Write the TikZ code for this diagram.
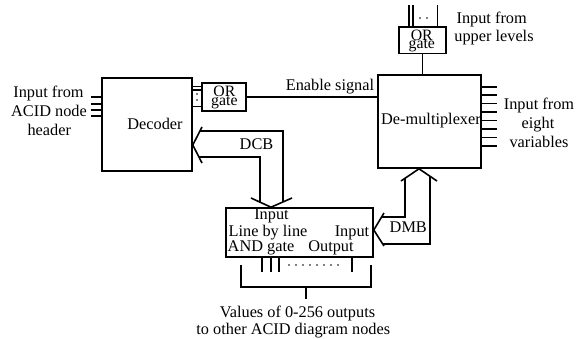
\documentclass[tikz,border=0pt]{standalone}
\usepackage{fontspec}
\setmainfont{Liberation Serif}
\begin{document}
\begin{tikzpicture}[x=1pt,y=-1pt,line width=1.6pt,
  box/.style={draw,line width=1.6pt,inner sep=0pt},
  lbl/.style={font=\fontsize{16.3}{18.5}\selectfont,inner sep=0pt,anchor=base},
  glbl/.style={font={\fontsize{15.8}{8.8}\selectfont\lineskiplimit=-20pt},inner sep=0pt,align=center},
  thin/.style={line width=1.3pt}]
\useasboundingbox (0,0) rectangle (584,338);
% boxes
\node[box,minimum width=90pt,minimum height=93pt] (dec) at (147,124.5) {};
\node[box,minimum width=44pt,minimum height=28pt] (or1) at (224,97) {};
\node[box,minimum width=103pt,minimum height=93pt] (dmx) at (429.5,121.5) {};
\node[box,minimum width=47pt,minimum height=26.5pt] (or2) at (422.5,40.2) {};
\node[box,minimum width=147pt,minimum height=49pt] (and) at (299.5,232.5) {};
% box texts
\node[lbl] (tdec) at (155,129) {Decoder};
\node[glbl] (tor1) at (224.4,97.6) {OR\\gate};
\node[glbl] (tor2) at (421.8,41) {OR\\gate};
\node[lbl] (tdmx) at (431,124) {De-multiplexer};
\node[lbl] (tand1) at (271.5,219.5) {Input};
\node[lbl] (tand2) at (268,236) {Line by line};
\node[lbl] (tand3) at (261,251.7) {AND gate};
\node[lbl] (tand4) at (352,236) {Input};
\node[lbl] (tand5) at (331,251.7) {Output};
% outside texts
\node[lbl] (tl1) at (48.5,97.7) {Input from};
\node[lbl] (tl2) at (49,116.7) {ACID node};
\node[lbl] (tl3) at (49.3,135) {header};
\node[lbl] (tu1) at (491.7,23.3) {Input from};
\node[lbl] (tu2) at (494,41) {upper levels};
\node[lbl] (tr1) at (539,109.3) {Input from};
\node[lbl] (tr2) at (538,128.3) {eight};
\node[lbl] (tr3) at (539,147.3) {variables};
\node[lbl] (ten) at (330,90.2) {Enable signal};
\node[lbl] (tdcb) at (256.5,149) {DCB};
\node[lbl] (tdmb) at (408.3,232.7) {DMB};
\node[lbl] (tb1) at (297.5,317.5) {Values of 0-256 outputs};
\node[lbl] (tb2) at (293.3,334.2) {to other ACID diagram nodes};
% decoder inputs
\foreach \y in {97,104,110,116} \draw (91,\y) -- (dec.west |- 0,\y);
% decoder to OR gate
\foreach \y in {86.5,90,106.5} \draw[thin] (dec.east |- 0,\y) -- (or1.west |- 0,\y);
\fill (197,94) circle (0.9pt);
\fill (197,100) circle (0.9pt);
% enable signal
\draw (or1.east) -- (or1.east -| dmx.west);
% upper OR gate
\foreach \x in {409,413,437.5} \draw (\x,5) -- (\x,0 |- or2.north);
\fill (420,18) circle (0.9pt);
\fill (427,18) circle (0.9pt);
\draw (or2.south) -- (or2.south |- dmx.north);
% eight variables
\foreach \y in {86.7,95.2,103.6,112.1,120.6,129.1,137.5,146}
  \draw (dmx.east |- 0,\y) -- (497,\y);
% DCB fat arrow
\coordinate (dcbA) at (dec.east |- 0,145);
\coordinate (dcbB) at (271,0 |- and.north);
\draw (202,127) -- (dcbA) -- (202,163);
\draw (199.8,131) -- (283,131) -- (283,202.3);
\draw (198.7,157) -- (260,157) -- (260,202.5);
\draw (251,198) -- (dcbB) -- (292,198);
% DMB fat arrow
\coordinate (dmbA) at (and.east |- 0,230);
\coordinate (dmbB) at (419,0 |- dmx.south);
\draw (384,213) -- (dmbA) -- (384,246);
\draw (381.5,217) -- (405,217) -- (405,178.1);
\draw (382.6,244) -- (430,244) -- (430,175.9);
\draw (401,181) -- (dmbB) -- (437,181);
% outputs
\foreach \x in {262,271,279,352} \draw (\x,0 |- and.south) -- (\x,272);
\foreach \x in {289,296,...,338} \fill (\x,265) circle (0.9pt);
\draw (241,265) -- (241,287) -- (371,287) -- (371,265);
\draw (306,287) -- (306,299);
\end{tikzpicture}
\end{document}
